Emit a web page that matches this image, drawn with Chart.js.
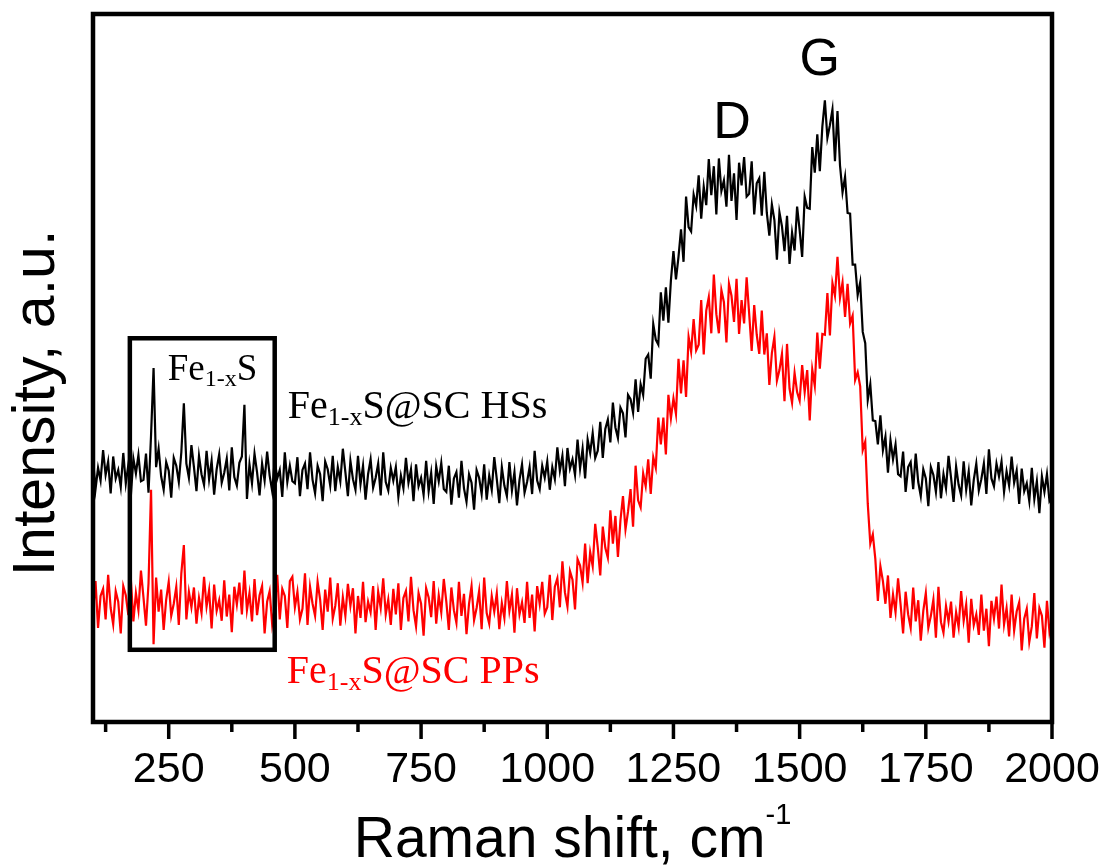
<!DOCTYPE html>
<html>
<head>
<meta charset="utf-8">
<script src="https://cdn.jsdelivr.net/npm/chart.js@4.4.1/dist/chart.umd.min.js"></script>
<style>
body { margin: 0; background: #fff; }
canvas { display: block; }
</style>
</head>
<body>
<canvas id="raman" width="1107" height="868" style="width:1107px;height:868px"></canvas>
<script>
// Raman shift grid, cm-1 (one reading every 5 cm-1, 100 to 2000)
const ramanShift = [];
for (let v = 100; v <= 2000; v += 5) ramanShift.push(v);

// Fe1-xS@SC HSs (black), intensity a.u., one row per 100 cm-1
const hssIntensity = [
    37.1, 32.9, 35.9, 34.1, 38.4, 34.9, 36.8, 32.3, 37.5, 34.4, 35.6, 33.2, 38.0, 33.7, 36.3, 31.9, 37.2, 35.1, 37.7, 34.0,
    34.2, 37.9, 32.4, 40.5, 50.0, 36.0, 38.6, 34.7, 32.8, 36.7, 35.5, 31.7, 37.3, 36.2, 33.9, 38.1, 45.0, 36.5, 34.5, 39.1,
    36.0, 32.6, 37.6, 35.0, 33.5, 38.3, 34.3, 36.9, 32.1, 35.7, 37.8, 33.8, 35.2, 37.2, 32.7, 38.8, 34.6, 33.4, 36.6, 37.5,
    44.8, 31.5, 36.4, 33.7, 37.9, 35.3, 32.0, 36.5, 34.1, 38.2, 34.8, 32.6, 37.0, 34.4, 35.6, 31.8, 38.1, 33.9, 36.2, 34.0,
    33.7, 37.4, 31.9, 35.6, 36.5, 32.9, 38.1, 34.2, 32.3, 36.2, 35.0, 31.2, 36.8, 35.7, 33.4, 37.6, 32.6, 36.0, 34.0, 38.6,
    35.3, 31.9, 36.9, 34.3, 32.8, 37.6, 33.6, 36.2, 31.4, 35.0, 37.1, 33.1, 34.5, 36.5, 32.0, 38.1, 33.9, 32.7, 35.9, 34.1,
    36.0, 31.8, 34.8, 33.0, 37.3, 33.8, 35.7, 31.2, 36.4, 33.3, 34.5, 32.1, 36.9, 32.6, 35.2, 30.8, 36.1, 34.0, 36.6, 32.9,
    32.5, 36.2, 30.7, 34.4, 35.3, 31.7, 36.9, 33.0, 31.1, 35.0, 33.8, 30.0, 35.6, 34.5, 32.2, 36.4, 31.4, 34.8, 32.8, 37.4,
    34.3, 30.9, 36.0, 33.4, 31.9, 36.7, 32.7, 35.3, 30.6, 34.2, 36.4, 32.4, 33.9, 36.0, 32.2, 38.3, 34.1, 32.9, 36.2, 34.5,
    36.8, 32.8, 36.0, 34.3, 38.8, 35.5, 37.6, 33.3, 38.7, 35.8, 37.1, 34.9, 39.9, 35.8, 38.6, 34.4, 39.9, 38.0, 40.8, 37.3,
    38.3, 42.4, 37.3, 41.4, 42.7, 39.5, 45.1, 41.6, 40.1, 44.4, 43.6, 40.2, 46.2, 45.6, 43.7, 48.4, 43.8, 47.7, 46.2, 51.3,
    51.9, 48.5, 56.2, 54.0, 53.3, 60.7, 56.7, 61.4, 56.4, 62.4, 66.5, 62.5, 65.7, 69.6, 65.0, 74.2, 69.9, 69.3, 74.5, 72.9,
    77.2, 71.1, 75.6, 73.0, 79.5, 74.4, 78.5, 71.7, 79.6, 75.0, 76.5, 72.8, 80.1, 73.6, 77.5, 70.9, 79.0, 75.8, 79.8, 74.2,
    74.6, 79.2, 71.7, 76.1, 76.8, 71.5, 77.7, 71.9, 68.7, 73.1, 70.9, 65.3, 72.0, 70.0, 66.5, 71.5, 64.7, 69.1, 66.6, 72.8,
    69.5, 65.7, 74.2, 72.6, 72.5, 81.2, 77.6, 83.0, 77.8, 84.1, 87.8, 82.5, 84.3, 86.5, 79.2, 86.3, 78.6, 74.8, 77.0, 71.9,
    71.8, 64.6, 64.6, 60.3, 62.1, 55.1, 53.5, 45.5, 47.7, 42.6, 42.5, 39.2, 43.3, 38.4, 40.3, 35.2, 39.8, 37.1, 39.2, 35.0,
    34.7, 38.2, 32.5, 36.0, 36.7, 32.9, 37.9, 33.9, 31.9, 35.7, 34.4, 30.5, 36.0, 34.9, 32.5, 36.7, 31.6, 35.0, 33.0, 37.6,
    34.5, 31.1, 36.1, 33.5, 32.0, 36.8, 32.8, 35.4, 30.6, 34.2, 36.5, 32.7, 34.3, 36.5, 32.2, 38.5, 34.4, 33.3, 36.5, 34.7,
    36.8, 32.5, 35.4, 33.4, 37.5, 33.8, 35.5, 30.8, 35.8, 32.6, 33.7, 31.2, 35.9, 31.5, 34.0, 29.5, 34.7, 32.5, 35.0, 31.2,
    31.8
];

// Fe1-xS@SC PPs (red)
const ppsIntensity = [
    15.5, 19.9, 13.3, 17.8, 18.8, 14.5, 20.8, 16.1, 13.8, 18.5, 17.0, 12.5, 19.2, 17.9, 15.1, 20.2, 14.2, 18.2, 15.8, 21.4,
    17.6, 13.6, 19.6, 32.8, 11.0, 20.4, 15.6, 18.7, 13.0, 17.3, 19.8, 15.0, 16.7, 19.1, 13.7, 21.0, 25.0, 14.5, 18.4, 16.2,
    19.0, 13.9, 17.5, 15.4, 20.5, 16.3, 18.6, 13.2, 19.4, 15.7, 17.2, 14.3, 20.0, 14.9, 18.0, 12.7, 19.1, 16.6, 19.7, 15.2,
    21.4, 15.8, 18.2, 14.2, 20.2, 15.1, 17.9, 19.2, 12.5, 17.0, 18.5, 13.8, 16.1, 20.8, 14.5, 18.8, 17.8, 13.3, 19.9, 20.5,
    16.2, 18.4, 14.5, 16.0, 21.0, 13.7, 19.1, 16.7, 15.0, 19.8, 17.3, 13.0, 18.7, 15.6, 20.4, 14.6, 16.4, 19.6, 13.6, 17.6,
    15.0, 19.5, 16.4, 18.9, 12.5, 17.8, 14.7, 19.8, 14.1, 17.0, 15.5, 19.2, 13.0, 18.4, 16.1, 20.3, 15.2, 17.3, 13.7, 18.8,
    15.2, 19.6, 13.0, 17.5, 18.5, 14.2, 20.5, 15.8, 13.5, 18.2, 16.7, 12.2, 18.9, 17.6, 14.8, 19.9, 13.9, 17.9, 15.5, 20.2,
    17.0, 13.0, 19.0, 15.8, 14.0, 19.8, 15.0, 18.1, 12.4, 16.7, 19.2, 14.4, 16.1, 18.5, 13.1, 20.4, 15.4, 13.9, 17.8, 15.6,
    18.2, 13.1, 16.8, 14.7, 19.9, 15.7, 18.0, 12.6, 18.9, 15.2, 16.9, 14.0, 19.8, 14.7, 18.0, 12.8, 19.2, 16.7, 19.8, 15.3,
    16.2, 20.8, 14.4, 19.1, 20.3, 16.2, 22.7, 18.3, 16.3, 21.3, 20.1, 15.9, 23.0, 22.1, 19.7, 25.2, 19.6, 24.0, 22.0, 28.0,
    24.7, 20.7, 27.6, 24.6, 23.2, 29.9, 25.2, 29.1, 23.3, 28.5, 31.9, 27.2, 29.7, 32.9, 27.6, 36.2, 31.3, 30.3, 35.1, 33.3,
    37.1, 32.2, 37.4, 35.9, 43.0, 39.2, 43.0, 37.8, 46.2, 42.9, 45.7, 43.5, 51.3, 46.4, 51.1, 45.9, 54.4, 52.3, 56.9, 52.5,
    53.3, 59.6, 51.9, 58.1, 60.0, 54.9, 63.2, 57.6, 54.9, 61.0, 59.3, 53.6, 61.9, 60.2, 56.5, 62.6, 54.8, 59.6, 56.3, 62.8,
    57.7, 52.4, 58.9, 54.7, 52.0, 58.1, 51.9, 54.9, 47.6, 52.1, 54.4, 48.2, 49.7, 52.0, 45.3, 53.4, 47.1, 45.1, 49.3, 46.6,
    45.4, 50.4, 46.6, 49.7, 42.6, 49.8, 47.5, 55.0, 49.9, 54.8, 54.7, 60.6, 54.6, 62.0, 60.2, 65.7, 59.9, 62.1, 57.2, 61.9,
    56.3, 57.4, 48.3, 49.4, 47.4, 38.4, 39.6, 30.8, 25.2, 26.5, 23.0, 17.1, 22.0, 19.9, 16.7, 20.7, 14.7, 18.0, 15.5, 20.3,
    16.6, 12.5, 18.4, 15.2, 13.3, 19.0, 14.2, 17.2, 11.5, 15.7, 18.2, 13.3, 15.0, 17.3, 11.9, 19.1, 14.1, 12.6, 16.4, 14.2,
    17.0, 11.9, 15.5, 13.4, 18.5, 14.3, 16.6, 11.2, 17.4, 13.7, 15.2, 12.3, 18.0, 12.9, 16.0, 10.7, 17.1, 14.6, 17.7, 13.2,
    19.4, 13.8, 16.1, 12.1, 18.0, 12.9, 15.6, 16.9, 10.1, 14.6, 16.0, 11.3, 13.5, 18.2, 11.8, 16.1, 15.0, 10.5, 17.1, 12.7,
    14.5
];

const majorTicks = [250, 500, 750, 1000, 1250, 1500, 1750, 2000];
const minorTicks = [125, 375, 625, 875, 1125, 1375, 1625, 1875];

// the box round the Fe1-xS peaks (x from/to, y from/to)
const boxX = [173, 460];
const boxY = [10.2, 54.2];

const toPoints = vals => vals.map((v, i) => ({ x: ramanShift[i], y: v }));

function drawRich(ctx, x, y, parts, color, family) {
    ctx.fillStyle = color;
    ctx.textAlign = 'left';
    ctx.textBaseline = 'alphabetic';
    parts.forEach(p => {
        ctx.font = p.size + 'px ' + family;
        ctx.fillText(p.t, x, y + (p.dy || 0));
        x += ctx.measureText(p.t).width;
    });
}

function richWidth(ctx, parts, family) {
    let w = 0;
    parts.forEach(p => {
        ctx.font = p.size + 'px ' + family;
        w += ctx.measureText(p.t).width;
    });
    return w;
}

const serif = '"Liberation Serif"';
const sans = '"Liberation Sans"';

const decorations = {
    id: 'decorations',
    afterDraw(chart) {
        const ctx = chart.ctx;
        const xs = chart.scales.x;
        const ys = chart.scales.y;
        const a = chart.chartArea;
        ctx.save();

        // frame
        ctx.strokeStyle = '#000';
        ctx.lineWidth = 4.5;
        ctx.strokeRect(a.left, a.top, a.right - a.left, a.bottom - a.top);

        // ticks, pointing out
        ctx.lineWidth = 3.5;
        majorTicks.forEach(v => {
            const p = xs.getPixelForValue(v);
            ctx.beginPath(); ctx.moveTo(p, a.bottom); ctx.lineTo(p, a.bottom + 17); ctx.stroke();
        });
        minorTicks.forEach(v => {
            const p = xs.getPixelForValue(v);
            ctx.beginPath(); ctx.moveTo(p, a.bottom); ctx.lineTo(p, a.bottom + 10); ctx.stroke();
        });

        // box round the iron sulfide peaks
        ctx.lineWidth = 4.5;
        const bx1 = xs.getPixelForValue(boxX[0]), bx2 = xs.getPixelForValue(boxX[1]);
        const by1 = ys.getPixelForValue(boxY[1]), by2 = ys.getPixelForValue(boxY[0]);
        ctx.strokeRect(bx1, by1, bx2 - bx1, by2 - by1);

        // labels
        drawRich(ctx, xs.getPixelForValue(248), ys.getPixelForValue(48.3),
            [{ t: 'Fe', size: 37 }, { t: '1-x', size: 24, dy: 6 }, { t: 'S', size: 37 }], '#000', serif);
        drawRich(ctx, xs.getPixelForValue(486), ys.getPixelForValue(42.9),
            [{ t: 'Fe', size: 40 }, { t: '1-x', size: 26, dy: 7 }, { t: 'S@SC HSs', size: 40 }], '#000', serif);
        drawRich(ctx, xs.getPixelForValue(484), ys.getPixelForValue(5.5),
            [{ t: 'Fe', size: 40 }, { t: '1-x', size: 26, dy: 7 }, { t: 'S@SC PPs', size: 40 }], '#ff0000', serif);

        ctx.fillStyle = '#000';
        ctx.font = '52px ' + sans;
        ctx.textAlign = 'center';
        ctx.fillText('D', xs.getPixelForValue(1366), ys.getPixelForValue(82.5));
        ctx.fillText('G', xs.getPixelForValue(1540), ys.getPixelForValue(91.4));

        // x axis title with superscript
        const xt = [{ t: 'Raman shift, cm', size: 57 }, { t: '-1', size: 29, dy: -33 }];
        const tw = richWidth(ctx, xt, sans);
        drawRich(ctx, (a.left + a.right) / 2 - tw / 2, 857, xt, '#000', sans);

        // y axis title
        ctx.translate(38, 403);
        ctx.rotate(-Math.PI / 2);
        ctx.font = '59px ' + sans;
        ctx.textAlign = 'center';
        ctx.textBaseline = 'middle';
        ctx.fillStyle = '#000';
        ctx.fillText('Intensity, a.u.', 0, 0);

        ctx.restore();
    }
};

new Chart(document.getElementById('raman').getContext('2d'), {
    type: 'line',
    data: {
        datasets: [
            {
                label: 'Fe1-xS@SC PPs',
                data: toPoints(ppsIntensity),
                borderColor: '#ff0000',
                borderWidth: 2.2,
                pointRadius: 0,
                tension: 0
            },
            {
                label: 'Fe1-xS@SC HSs',
                data: toPoints(hssIntensity),
                borderColor: '#000000',
                borderWidth: 2.2,
                pointRadius: 0,
                tension: 0
            }
        ]
    },
    options: {
        responsive: false,
        animation: false,
        layout: { padding: { left: 93, top: 14, right: 55, bottom: 0 } },
        plugins: { legend: { display: false }, tooltip: { enabled: false } },
        scales: {
            x: {
                type: 'linear',
                min: 100,
                max: 2000,
                grid: { display: false, drawTicks: false },
                border: { display: false },
                afterBuildTicks: scale => { scale.ticks = majorTicks.map(v => ({ value: v })); },
                afterFit: scale => {
                    scale.height = 146;
                    scale.paddingLeft = 0;
                    scale.paddingRight = 0;
                },
                ticks: {
                    autoSkip: false,
                    maxRotation: 0,
                    padding: 22,
                    color: '#000',
                    font: { family: 'Liberation Sans', size: 43 },
                    callback: v => String(v)
                }
            },
            y: {
                display: false,
                min: 0,
                max: 100
            }
        }
    },
    plugins: [decorations]
});
</script>
</body>
</html>
